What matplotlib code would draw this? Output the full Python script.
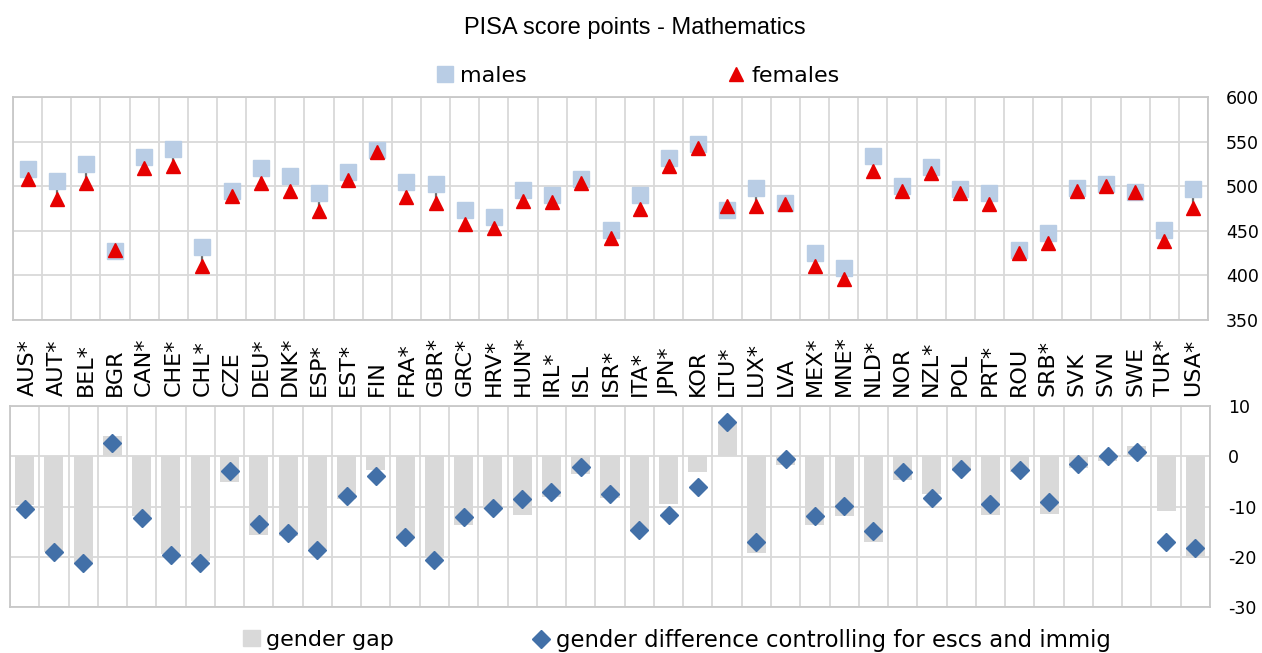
import matplotlib
matplotlib.use('Agg')
from matplotlib import pyplot as plt
from matplotlib.lines import Line2D
from matplotlib.patches import Patch
from matplotlib.transforms import blended_transform_factory
import numpy as np

countries = ['AUS*', 'AUT*', 'BEL*', 'BGR', 'CAN*', 'CHE*', 'CHL*', 'CZE', 'DEU*',
             'DNK*', 'ESP*', 'EST*', 'FIN', 'FRA*', 'GBR*', 'GRC*', 'HRV*', 'HUN*',
             'IRL*', 'ISL', 'ISR*', 'ITA*', 'JPN*', 'KOR', 'LTU*', 'LUX*', 'LVA',
             'MEX*', 'MNE*', 'NLD*', 'NOR', 'NZL*', 'POL', 'PRT*', 'ROU', 'SRB*',
             'SVK', 'SVN', 'SWE', 'TUR*', 'USA*']

males = [519, 506, 525, 427, 533, 542, 432, 495, 520, 511, 492, 516, 541, 505,
         502, 473, 465, 496, 490, 508, 451, 490, 532, 547, 473, 498, 481, 425,
         408, 534, 500, 522, 497, 492, 428, 447, 498, 502, 494, 451, 497]
females = [508, 486, 504, 429, 520, 523, 410, 489, 504, 495, 472, 507, 538, 488,
           481, 458, 453, 483, 482, 504, 442, 474, 523, 543, 478, 478, 480, 411,
           396, 517, 495, 515, 492, 480, 425, 436, 495, 500, 494, 439, 476]

gender_gap = [-9.8, -19.0, -21.5, 4.0, -11.8, -19.5, -20.9, -5.2, -15.6, -15.9,
              -18.5, -8.5, -2.8, -16.3, -20.2, -13.6, -10.5, -11.7, -8.2, -3.6,
              -8.3, -14.6, -9.6, -3.2, 6.6, -19.2, -1.7, -13.6, -11.9, -17.1,
              -4.8, -7.6, -3.0, -11.7, -3.2, -11.4, -2.3, -0.9, 2.0, -10.8, -20.2]
gap_controlled = [-10.5, -19.1, -21.3, 2.6, -12.3, -19.6, -21.3, -2.9, -13.4, -15.2,
                  -18.7, -8.0, -4.0, -16.0, -20.6, -12.1, -10.2, -8.5, -7.2, -2.1,
                  -7.5, -14.6, -11.7, -6.1, 6.9, -17.0, -0.5, -11.9, -9.9, -14.8,
                  -3.1, -8.3, -2.6, -9.5, -2.8, -9.1, -1.5, 0.0, 0.9, -17.0, -18.2]

W, H = 1262, 653
grid_c = '#d9d9d9'
male_c = '#b9cde5'
female_c = '#e60000'
diam_c = '#4270a8'
font = 'DejaVu Sans'
plt.rcParams['axes.unicode_minus'] = False

fig = plt.figure(figsize=(W / 100, H / 100), dpi=100)
x = np.arange(len(countries))


def style_axis(ax):
    ax.set_xlim(-0.5, len(countries) - 0.5)
    ax.set_xticks(np.arange(-0.5, len(countries), 1.0), minor=True)
    ax.set_xticks([])
    ax.grid(which='minor', axis='x', color=grid_c, lw=1.3)
    ax.grid(which='major', axis='y', color=grid_c, lw=1.3)
    ax.set_axisbelow(True)
    ax.yaxis.tick_right()
    ax.tick_params(axis='y', length=0, pad=13, labelsize=12.5)
    ax.tick_params(axis='x', which='both', length=0)
    for lab in ax.get_yticklabels():
        lab.set_fontfamily(font)
    for s in ax.spines.values():
        s.set_color('#c8c8c8')
        s.set_linewidth(1.3)


# top panel: scores
ax1 = fig.add_axes([13 / W, 1 - 320 / H, (1208 - 13) / W, (320 - 97) / H])
ax1.vlines(x, females, males, color='#6b6b6b', lw=1.6, zorder=2)
ax1.plot(x, males, ls='none', marker='s', ms=11, color=male_c, zorder=3)
ax1.plot(x, females, ls='none', marker='^', ms=10.5, color=female_c, zorder=4)
ax1.set_ylim(350, 600)
ax1.set_yticks(np.arange(350, 601, 50))
style_axis(ax1)

# country labels, reading upwards from a common baseline
trans = blended_transform_factory(ax1.transData, fig.transFigure)
for xi, name in zip(x, countries):
    ax1.text(xi, 1 - 396 / H, name, transform=trans, rotation=90,
             ha='center', va='bottom', fontsize=16, family=font)

# bottom panel: gender differences
ax2 = fig.add_axes([10 / W, 1 - 607 / H, (1210 - 10) / W, (607 - 406) / H])
ax2.bar(x, gender_gap, width=0.65, color=grid_c, zorder=2)
ax2.plot(x, gap_controlled, ls='none', marker='D', ms=9.5, color=diam_c, zorder=3)
ax2.set_ylim(-30, 10)
ax2.set_yticks(np.arange(-30, 11, 10))
style_axis(ax2)

fig.text(635 / W, 1 - 28 / H, 'PISA score points - Mathematics',
         family='Liberation Sans', fontsize=17, ha='center', va='center')


def add_legend(handle, label, xl, yc, size=16):
    fig.legend([handle], [label], bbox_to_anchor=(xl / W, 1 - yc / H),
               frameon=False, borderpad=0, borderaxespad=0, handlelength=0.75,
               handletextpad=0.3, loc='center left',
               prop={'family': font, 'size': size})


add_legend(Line2D([], [], ls='none', marker='s', ms=11, color=male_c),
           'males', 437, 76)
add_legend(Line2D([], [], ls='none', marker='^', ms=10, color=female_c),
           'females', 728, 76)
add_legend(Patch(color=grid_c), 'gender gap', 243, 640)
add_legend(Line2D([], [], ls='none', marker='D', ms=9.5, color=diam_c),
           'gender difference controlling for escs and immig', 532, 640, 16.4)

fig.savefig('out.png', dpi=100)
